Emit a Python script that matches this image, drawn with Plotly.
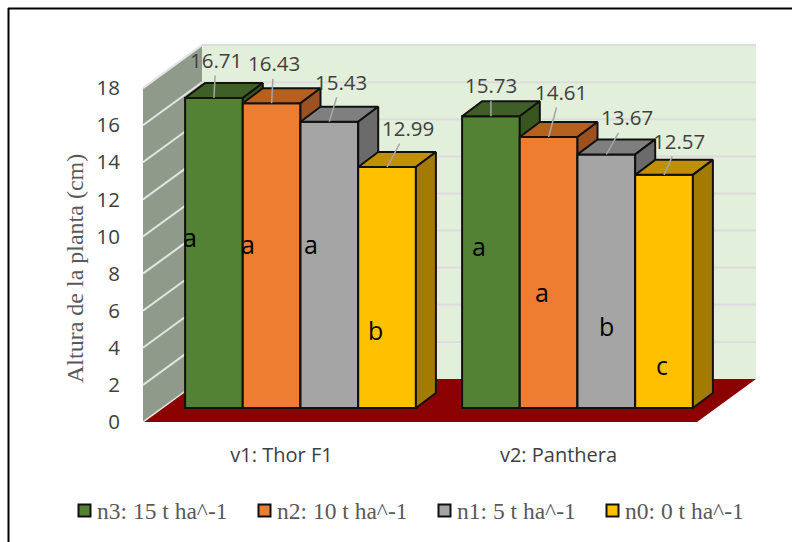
import plotly.graph_objects as go

# ---- data ----
categories = ["v1: Thor F1", "v2: Panthera"]
series_names = ["n3: 15 t ha^-1", "n2: 10 t ha^-1", "n1: 5 t ha^-1", "n0: 0 t ha^-1"]
n3_values = [16.71, 15.73]
n2_values = [16.43, 14.61]
n1_values = [15.43, 13.67]
n0_values = [12.99, 12.57]
n3_letters = ["a", "a"]
n2_letters = ["a", "a"]
n1_letters = ["a", "b"]
n0_letters = ["b", "c"]
y_ticks = [0, 2, 4, 6, 8, 10, 12, 14, 16, 18]

series_values = [n3_values, n2_values, n1_values, n0_values]
series_letters = [n3_letters, n2_letters, n1_letters, n0_letters]

# ---- styles / geometry ----
W, H = 792, 542
PX_L, PX_R, PX_T, PX_B = 143, 770, 30, 422   # plot area in pixels
PX_PER_CAT, PX_PER_UNIT = 277.0, 18.55
front = ["#548235", "#ED7D31", "#A5A5A5", "#FFC000"]
top = ["#3E6027", "#B5601F", "#7F7F7F", "#C09000"]
side = ["#37571F", "#9C5120", "#6B6B6B", "#A37B00"]
EDGE = "#111111"
TXT = "#404040"
SANS = "Open Sans"
SERIF = "Liberation Serif"

cx = lambda px: px / PX_PER_CAT      # pixel length -> x units
cy = lambda px: px / PX_PER_UNIT     # pixel length -> y units
x_lo = -0.5
x_hi = x_lo + cx(PX_R - PX_L)
y_hi = cy(PX_B - PX_T)

BAR_W = cx(57.7)
SHIFT = cx(19)
BASE = cy(14)
D_X, D_Y = cx(20), cy(15)
WALL_X, WALL_Y = cx(59), cy(43)
FLOOR_R = 1.5

label_off = [  # label offset (px) from the bar top point: one row per series
    [(2, -38), (0, -31)],
    [(2, -40), (12, -45)],
    [(12, -40), (21, -37)],
    [(21, -39), (15, -34)],
]
letter_y = [[10.0, 9.5], [9.62, 7.0], [9.62, 5.2], [4.95, 3.06]]  # letter heights on axis
letter_dx = [[-24, -12], [-24, -7], [-18.5, 0], [-12, -2]]

fig = go.Figure()
annotations, shapes = [], []

for s, (name, vals, letters) in enumerate(zip(series_names, series_values, series_letters)):
    xa = "x" if s == 0 else f"x{s + 1}"
    ya = "y" if s == 0 else f"y{s + 1}"
    xs = [c + SHIFT + (s - 1.5) * BAR_W for c in range(len(categories))]
    fig.add_trace(go.Bar(
        x=xs, y=vals, base=[BASE] * len(vals), width=BAR_W, name=name,
        xaxis=xa, yaxis=ya, showlegend=False, cliponaxis=False,
        marker=dict(color=front[s], line=dict(color=EDGE, width=2)),
        hovertemplate=name + "<br>%{y}<extra></extra>",
    ))
    for x, v in zip(xs, vals):
        l, r = x - BAR_W / 2, x + BAR_W / 2
        t = BASE + v
        # top face
        fig.add_trace(go.Scatter(
            x=[l, r, r + D_X, l + D_X, l], y=[t, t, t + D_Y, t + D_Y, t],
            mode="lines", fill="toself", fillcolor=top[s],
            line=dict(color=EDGE, width=2), xaxis=xa, yaxis=ya,
            showlegend=False, hoverinfo="skip"))
        # side face
        fig.add_trace(go.Scatter(
            x=[r, r + D_X, r + D_X, r, r], y=[BASE, BASE + D_Y, t + D_Y, t, BASE],
            mode="lines", fill="toself", fillcolor=side[s],
            line=dict(color=EDGE, width=2), xaxis=xa, yaxis=ya,
            showlegend=False, hoverinfo="skip"))
    for c, (x, v, let) in enumerate(zip(xs, vals, letters)):
        ox, oy = label_off[s][c]
        annotations.append(dict(
            x=x, y=BASE + v, xref="x", yref="y", text=f"{v:.2f}", showarrow=True,
            ax=ox, ay=oy, arrowhead=0, arrowwidth=1.5, arrowcolor="#A6A6A6",
            font=dict(family=SANS, size=20.5, color=TXT)))
        annotations.append(dict(
            x=x + cx(letter_dx[s][c]), y=letter_y[s][c], xref="x", yref="y", text=let,
            xanchor="center", yanchor="middle",
            showarrow=False, font=dict(family=SANS, size=25, color="#000000")))

# back wall, side wall and floor (decorative chart box, on the same axes)
shapes.append(dict(type="path", xref="x", yref="y", layer="below",
                   fillcolor="#E2EFDA", line=dict(width=0),
                   path=f"M{x_lo + WALL_X},{WALL_Y} H{FLOOR_R + WALL_X} V{WALL_Y + 18} H{x_lo + WALL_X} Z"))
shapes.append(dict(type="path", xref="x", yref="y", layer="below",
                   fillcolor="#8F9A8A", line=dict(width=0),
                   path=f"M{x_lo},0 L{x_lo + WALL_X},{WALL_Y} V{WALL_Y + 18} L{x_lo},18 Z"))
shapes.append(dict(type="path", xref="x", yref="y", layer="below",
                   fillcolor="#8B0000", line=dict(width=0),
                   path=f"M{x_lo},0 H{FLOOR_R} L{FLOOR_R + WALL_X},{WALL_Y} H{x_lo + WALL_X} Z"))
for v in y_ticks[1:]:
    shapes.append(dict(type="line", xref="x", yref="y", layer="below",
                       x0=x_lo + WALL_X, x1=FLOOR_R + WALL_X, y0=WALL_Y + v, y1=WALL_Y + v,
                       line=dict(color="#DCDCDC", width=2)))
    shapes.append(dict(type="line", xref="x", yref="y", layer="below",
                       x0=x_lo, x1=x_lo + WALL_X, y0=v, y1=WALL_Y + v,
                       line=dict(color="#E4E4E4", width=2)))
shapes.append(dict(type="line", xref="x", yref="y", layer="below",
                   x0=x_lo, x1=x_lo + WALL_X, y0=0, y1=WALL_Y,
                   line=dict(color="#E4E4E4", width=1.5)))
shapes.append(dict(type="line", xref="x", yref="y", layer="below",
                   x0=x_lo, x1=FLOOR_R, y0=-0.05, y1=-0.05,
                   line=dict(color="#DDDDDD", width=1.5)))

# chart frame: only the top and left edges fall inside the picture
shapes.append(dict(type="line", xref="paper", yref="paper", layer="below",
                   x0=8 / W, x1=1, y0=1 - 8.5 / H, y1=1 - 8.5 / H,
                   line=dict(color="#000000", width=2)))
shapes.append(dict(type="line", xref="paper", yref="paper", layer="below",
                   x0=8.5 / W, x1=8.5 / W, y0=0, y1=1 - 8 / H,
                   line=dict(color="#000000", width=2)))

# axis title
annotations.append(dict(x=75 / W, y=1 - 269 / H, xref="paper", yref="paper",
                        xanchor="center", yanchor="middle",
                        text="Altura de la planta (cm)", textangle=-90, showarrow=False,
                        font=dict(family=SERIF, size=24, color="#595959")))

# legend row
key_x = [78, 258, 438, 606]
for s, name in enumerate(series_names):
    k = key_x[s]
    shapes.append(dict(type="rect", xref="paper", yref="paper",
                       x0=(k + 0.5) / W, x1=(k + 12.5) / W, y0=1 - 516.5 / H, y1=1 - 504.5 / H,
                       fillcolor=front[s], line=dict(color=EDGE, width=2)))
    annotations.append(dict(x=(k + 17) / W, y=1 - 511 / H, xref="paper", yref="paper",
                            xanchor="left", yanchor="middle", text=name, showarrow=False,
                            font=dict(family=SERIF, size=23.5, color="#595959")))

axis_common = dict(range=[x_lo, x_hi], domain=[PX_L / W, PX_R / W], showgrid=False,
                   zeroline=False, automargin=False)
yaxis_common = dict(range=[0, y_hi], domain=[1 - PX_B / H, 1 - PX_T / H], showgrid=False,
                    zeroline=False, automargin=False)

fig.update_layout(
    width=W, height=H, margin=dict(l=0, r=0, t=0, b=0), autosize=False,
    paper_bgcolor="white", plot_bgcolor="rgba(0,0,0,0)", barmode="overlay",
    showlegend=False, shapes=shapes, annotations=annotations,
    xaxis=dict(**axis_common, tickmode="array", tickvals=list(range(len(categories))),
               ticktext=categories, showline=False, ticks="outside", ticklen=15,
               tickcolor="rgba(0,0,0,0)", tickfont=dict(family=SANS, size=20, color=TXT)),
    yaxis=dict(**yaxis_common, tickmode="array", tickvals=y_ticks, showline=False,
               ticks="outside", ticklen=18, tickcolor="rgba(0,0,0,0)",
               tickfont=dict(family=SANS, size=20.5, color=TXT)),
)
for i in range(2, 5):
    fig.update_layout({
        f"xaxis{i}": dict(**axis_common, overlaying="x", visible=False, anchor=f"y{i}"),
        f"yaxis{i}": dict(**yaxis_common, overlaying="y", visible=False, anchor=f"x{i}"),
    })

fig.write_html("out.html", config={"displayModeBar": False},
               post_script="document.body.style.margin='0';")
